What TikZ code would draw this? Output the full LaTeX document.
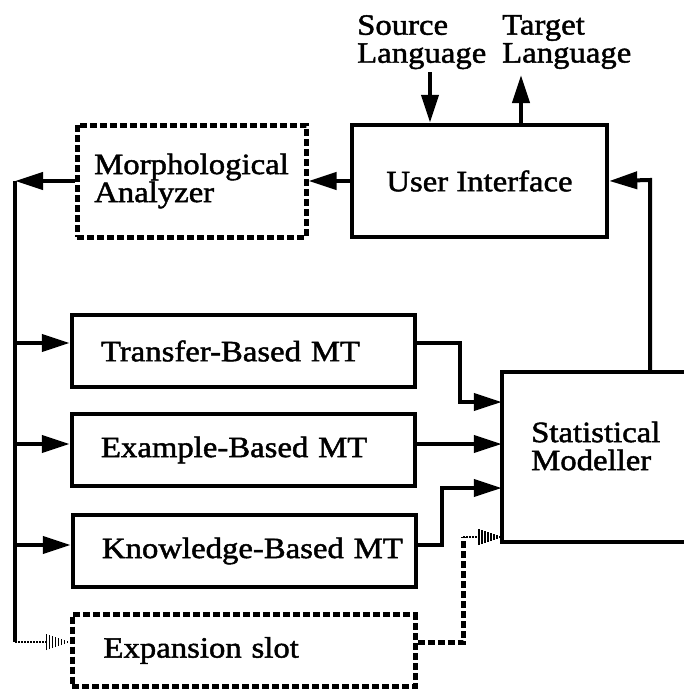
\documentclass[tikz,border=0pt]{standalone}
\usepackage{fontspec}
\setmainfont{Liberation Serif}[FakeStretch=1.11, FakeBold=1.6]
\usetikzlibrary{arrows.meta,calc}
\begin{document}
\begin{tikzpicture}[x=1pt,y=1pt,
  every node/.style={font=\fontsize{29.5pt}{28pt}\selectfont},
  solidbox/.style={draw, line width=4.5pt, inner ysep=0pt},
  dashbox/.style={draw, line width=5pt, dash pattern=on 7pt off 3pt, inner ysep=0pt},
  mtbox/.style={minimum width=343pt, minimum height=72pt, text width=285pt, inner xsep=29pt, align=left},
  conn/.style={line width=4pt},
  arr/.style={line width=4pt, -{Triangle[length=28pt,width=17pt]}},
  dashln/.style={line width=5pt, dash pattern=on 7pt off 3pt},
  dotln/.style={line width=2pt, dash pattern=on 1.5pt off 1.5pt},
  pics/stripetip/.style={code={
    \foreach \k in {0,...,7} {
      \draw[line width=1.8pt] ({-2-3*\k},{-(1+\k)}) -- ({-2-3*\k},{1+\k});
    }
  }}
]
\useasboundingbox (0,0) rectangle (684,-689);

% top row
\node[solidbox, minimum width=255pt, minimum height=112pt] (ui) at (479.5,-181) {User Interface};
\node[dashbox, minimum width=229pt, minimum height=112pt, align=left] (morph) at (191.5,-181) {Morphological\\Analyzer};

% labels
\node[anchor=north west, inner sep=0pt, align=left] (src) at (357,-15) {Source\\Language};
\node[anchor=north west, inner sep=0pt, align=left] (tgt) at (502,-15) {Target\\Language};

% MT boxes
\node[solidbox, mtbox] (tb) at (243.5,-351) {\mbox{Transfer-Based~MT}};
\node[solidbox, mtbox] (eb) at (243.5,-450) {\mbox{Example-Based~MT}};
\node[solidbox, mtbox] (kb) at (244.5,-551) {\mbox{Knowledge-Based~MT}};
\node[dashbox, mtbox, text width=280pt, inner xsep=31.5pt] (es) at (243.5,-650.5) {\mbox{Expansion~slot}};

% statistical modeller (open on the right edge)
\node[minimum width=182pt, minimum height=170pt, inner sep=0pt] (sm) at (593,-457) {};
\draw[conn] (sm.north east) -- (sm.north west) -- (sm.south west) -- (sm.south east);
\node[anchor=west, align=left, inner sep=0pt] (smtxt) at (531,-446) {Statistical\\Modeller};

% coordinates
\coordinate (trtop) at (15,-181);
\coordinate (trbot) at (15,-642);
\coordinate (srcin) at (430,-72);
\coordinate (tgtout) at (521,-75);
\coordinate (fb) at (650,-180);

% source / target arrows
\draw[arr] (srcin) -- (srcin |- ui.north);
\draw[arr] (tgtout |- ui.north) -- (tgtout);

% UI -> morph -> trunk
\draw[arr] (ui.west) -- (morph.west -| morph.east);
\draw[arr] (morph.west) -- (trtop);
\draw[conn] (trtop) -- (trbot);

% trunk -> boxes
\coordinate (a1) at (15,-343);
\coordinate (a2) at (15,-444);
\coordinate (a3) at (15,-545);
\draw[arr] (a1) -- (a1 -| tb.west);
\draw[arr] (a2) -- (a2 -| eb.west);
\draw[arr] (a3) -- (a3 -| kb.west);
\draw[dotln] (trbot) -- ([xshift=-24pt]trbot -| es.west);
\pic at (trbot -| es.west) {stripetip};

% boxes -> statistical modeller
\draw[arr] (a1 -| tb.east) -- (460,-343) -- (460,-402) -- (sm.west |- 0,-402);
\draw[arr] (a2 -| eb.east) -- (a2 -| sm.west);
\draw[arr] (a3 -| kb.east) -- (442,-545) -- (442,-488) -- (sm.west |- 0,-488);
\draw[dashln] (trbot -| es.east) -- (463,-642) -- (463,-537);
\draw[dotln] (463,-537) -- ($(sm.west |- 0,-537)+(-24,0)$);
\pic at (sm.west |- 0,-537) {stripetip};

% feedback to UI
\draw[arr] (fb |- sm.north) -- (fb) -- (ui.east);
\end{tikzpicture}
\end{document}
